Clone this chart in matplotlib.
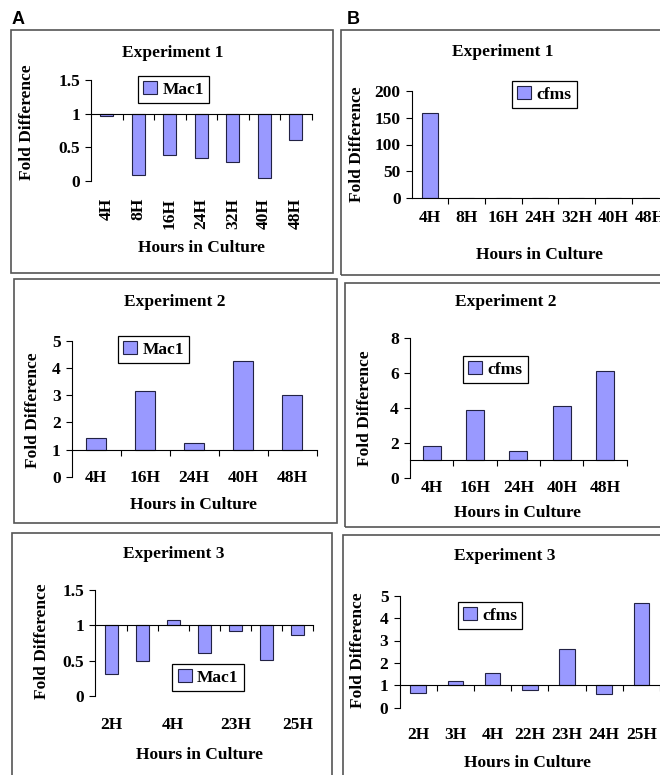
import matplotlib
matplotlib.use("Agg")
import matplotlib.pyplot as plt
from matplotlib.patches import Rectangle

# fold difference of Mac1 (panel A) and cfms (panel B) over hours in culture
exp1_hours = ["4H", "8H", "16H", "24H", "32H", "40H", "48H"]
exp1_mac1 = [0.96, 0.09, 0.38, 0.34, 0.28, 0.05, 0.61]
exp1_cfms = [158, 0, 0, 0, 0, 0, 0]

exp2_hours = ["4H", "16H", "24H", "40H", "48H"]
exp2_mac1 = [1.41, 3.17, 1.25, 4.27, 3.01]
exp2_cfms = [1.84, 3.90, 1.55, 4.10, 6.15]

exp3_hours = ["2H", "3H", "4H", "22H", "23H", "24H", "25H"]
exp3_mac1 = [0.31, 0.49, 1.08, 0.61, 0.92, 0.51, 0.86]
exp3_cfms = [0.66, 1.19, 1.57, 0.80, 2.64, 0.61, 4.69]

W, H = 660, 775
BAR = "#9999ff"
FONT = "Liberation Serif"
FS = 12.5

plt.rcParams["font.family"] = [FONT, "DejaVu Serif"]
plt.rcParams["font.weight"] = "bold"

fig = plt.figure(figsize=(W / 100, H / 100), dpi=100)


def fx(x):
    return x / W


def fy(y):
    return 1 - y / H


def box(x0, y0, x1, y1):
    fig.patches.append(Rectangle((fx(x0), fy(y1)), fx(x1 - x0), (y1 - y0) / H,
                                 transform=fig.transFigure, fill=False,
                                 edgecolor="#555555", linewidth=1.2))


def panel(ax_px, hours, vals, label, ylim, yticks, base, title_xy, ylab_xy,
          xlab_xy, leg_xy, lab_off, rotate=False, show_every=1):
    x0, x1, yt, yb = ax_px
    ax = fig.add_axes([fx(x0), fy(yb), fx(x1 - x0), (yb - yt) / H])
    n = len(hours)
    pos = list(range(n))
    heights = [v - base for v in vals]
    ax.bar(pos, heights, bottom=base, width=0.42, color=BAR,
           edgecolor="#222244", linewidth=0.8, label=label, zorder=2)
    ax.set_xlim(-0.5, n - 0.5)
    ax.set_ylim(*ylim)
    ax.set_yticks(yticks)
    ax.set_yticklabels([("%g" % t) for t in yticks], fontsize=FS,
                       fontweight="bold")
    for s in ["top", "right"]:
        ax.spines[s].set_visible(False)
    ax.spines["bottom"].set_position(("data", base))
    ax.spines["left"].set_bounds(ylim[0], ylim[1])
    ax.set_xticks([i + 0.5 for i in range(n)])
    ax.tick_params(axis="x", direction="out", length=4, labelbottom=False,
                   width=0.8)
    ax.tick_params(axis="y", direction="out", length=4, width=0.8, pad=4)
    ax.patch.set_alpha(0)
    for i, h in enumerate(hours):
        if i % show_every:
            continue
        ax.annotate(h, xy=(i, 0), xycoords=("data", "axes fraction"),
                    xytext=(0, -lab_off * 0.72), textcoords="offset points",
                    ha="center", va="top" if rotate else "center",
                    rotation=90 if rotate else 0, fontsize=FS,
                    fontweight="bold", annotation_clip=False)
    ax.legend(loc="center", bbox_to_anchor=(fx(leg_xy[0]), fy(leg_xy[1])),
              bbox_transform=fig.transFigure, fancybox=False, framealpha=1,
              edgecolor="black", handlelength=0.8, handleheight=0.8,
              handletextpad=0.3, borderpad=0.3, borderaxespad=0,
              prop={"family": FONT, "weight": "bold", "size": FS}).get_frame().set_linewidth(0.9)
    fig.text(fx(title_xy[0]), fy(title_xy[1]), title, ha="center",
             va="center", fontsize=FS, fontweight="bold")
    fig.text(fx(ylab_xy[0]), fy(ylab_xy[1]), "Fold Difference", ha="center",
             va="center", rotation=90, fontsize=FS, fontweight="bold")
    fig.text(fx(xlab_xy[0]), fy(xlab_xy[1]), "Hours in Culture", ha="center",
             va="center", fontsize=FS, fontweight="bold")
    return ax


# panel boxes
box(11, 30, 333, 273)
box(341, 30, 662, 275)
box(14, 279, 337, 523)
box(345, 283, 662, 527)
box(12, 533, 332, 777)
box(343, 535, 662, 777)

fig.text(fx(12), fy(19), "A", fontsize=13, fontweight="bold",
         family="Liberation Sans", va="center")
fig.text(fx(347), fy(19), "B", fontsize=13, fontweight="bold",
         family="Liberation Sans", va="center")

title = "Experiment 1"
panel((91, 311.5, 80, 181), exp1_hours, exp1_mac1, "Mac1", (0, 1.5),
      [0, 0.5, 1, 1.5], 1, (173, 53), (27, 122), (202, 248), (173.5, 89.5),
      17, rotate=True)
panel((411.7, 668.4, 91, 198), exp1_hours, exp1_cfms, "cfms", (0, 200),
      [0, 50, 100, 150, 200], 0, (503, 52), (357, 144), (539, 255),
      (544.5, 94.5), 20)

title = "Experiment 2"
panel((71.7, 316.7, 341, 476.7), exp2_hours, exp2_mac1, "Mac1", (0, 5),
      [0, 1, 2, 3, 4, 5], 1, (175, 302), (33, 410), (193, 505),
      (153.5, 349.5), 1.5)
panel((410, 626.7, 338.3, 477.7), exp2_hours, exp2_cfms, "cfms", (0, 8),
      [0, 2, 4, 6, 8], 1, (506, 302), (365, 408), (517.5, 513),
      (495.5, 369.5), 10)

title = "Experiment 3"
panel((95.5, 313.3, 590, 696), exp3_hours, exp3_mac1, "Mac1", (0, 1.5),
      [0, 0.5, 1, 1.5], 1, (174, 554), (42, 641), (199, 755),
      (208, 677.5), 29, show_every=2)
panel((399.5, 660, 595.7, 707.7), exp3_hours, exp3_cfms, "cfms", (0, 5),
      [0, 1, 2, 3, 4, 5], 1, (505, 556), (358, 650), (528, 763),
      (490, 615.5), 27)

fig.savefig("out.png", dpi=100, facecolor="white")
